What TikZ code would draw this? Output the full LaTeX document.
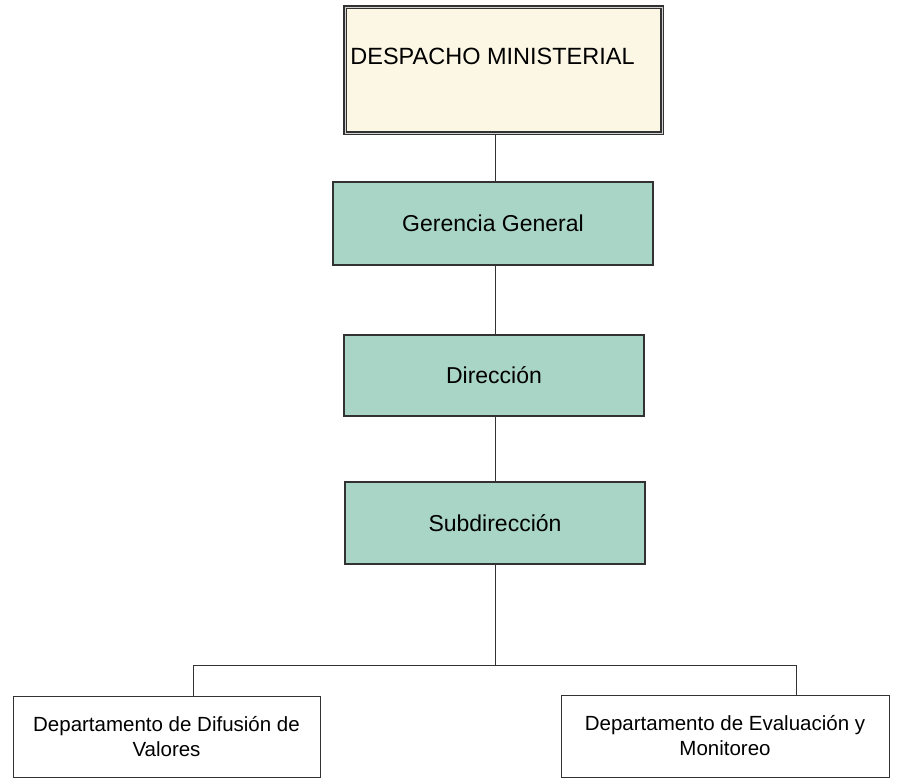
\documentclass[tikz,border=0pt]{standalone}
\usepackage{fontspec}
\setmainfont{Liberation Sans}
\usetikzlibrary{positioning}

\definecolor{despfill}{RGB}{252,247,228}
\definecolor{unitfill}{RGB}{168,213,198}
\definecolor{linegray}{RGB}{50,50,50}

\tikzset{
  despacho/.style={draw=linegray, line width=1.3pt, double=gray!35, double distance=0.8pt,
    fill=despfill, minimum width=317pt, minimum height=126pt, inner sep=0pt, font=\fontsize{23.5}{27}\selectfont},
  unidad/.style={draw=linegray, line width=1.1pt, fill=unitfill, inner sep=0pt, font=\fontsize{23}{27}\selectfont},
  depto/.style={draw=linegray, line width=0.8pt, fill=white, inner sep=0pt, align=center,
    font=\fontsize{20.5}{25}\selectfont},
  enlace/.style={draw=linegray, line width=0.8pt}
}

\begin{document}
\begin{tikzpicture}[x=1pt, y=-1pt]
        \useasboundingbox (0,0) rectangle (899,779);

        \node (DM) [despacho] at (503.5,70) {\raisebox{28pt}{DESPACHO MINISTERIAL}\kern22pt};
        \node (GG) [unidad, minimum width=320pt, minimum height=83pt] at (493,223.5) {Gerencia General};
        \node (DIR) [unidad, minimum width=300pt, minimum height=81pt] at (494,375.5) {Direcci\'on};
        \node (SUB) [unidad, minimum width=300pt, minimum height=82pt] at (495,523) {Subdirecci\'on};

        \node (DDV) [depto, minimum width=307pt, minimum height=81pt] at (166.5,736.5)
          {Departamento de Difusi\'on de\\Valores};
        \node (DEM) [depto, minimum width=328pt, minimum height=82pt] at (725,736)
          {Departamento de Evaluaci\'on y\\Monitoreo};

        \coordinate (jL) at (193,665);
        \coordinate (jR) at (796,665);

        \draw[enlace] (DM.south -| SUB.south) -- (GG.north -| SUB.south);
        \draw[enlace] (GG.south -| SUB.south) -- (DIR.north -| SUB.south);
        \draw[enlace] (DIR.south -| SUB.south) -- (SUB.north);
        \draw[enlace] (SUB.south) -- (SUB.south |- jL);
        \draw[enlace] (DDV.north -| jL) |- (jR) -- (DEM.north -| jR);

      \end{tikzpicture}
\end{document}
